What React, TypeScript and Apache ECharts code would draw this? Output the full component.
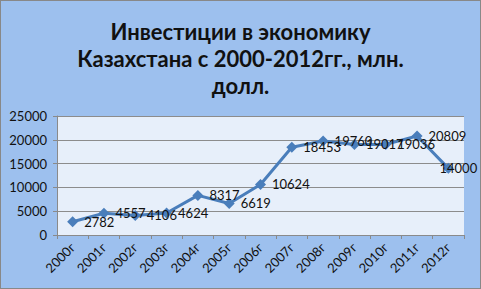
import React, { useEffect, useRef } from "react";
import * as echarts from "echarts";

const categories = ["2000г", "2001г", "2002г", "2003г", "2004г", "2005г", "2006г", "2007г", "2008г", "2009г", "2010г", "2011г", "2012г"];
const values = [2782, 4557, 4106, 4624, 8317, 6619, 10624, 18453, 19760, 19017, 19036, 20809, 14000];
const titleText = "Инвестиции в экономику\nКазахстана с 2000-2012гг., млн.\nдолл.";

export default function App() {
  const ref = useRef<HTMLDivElement>(null);
  useEffect(() => {
    document.body.style.margin = "0";
    const chart = echarts.init(ref.current!, null, { renderer: "svg" });
    const lastIdx = values.length - 1;
    chart.setOption({
      animation: false,
      backgroundColor: "#9DC0EE",
      title: {
        text: titleText,
        left: "center",
        top: 12,
        textStyle: {
          fontFamily: "Lato",
          fontWeight: "bold",
          fontSize: 22,
          lineHeight: 27,
          color: "#111",
        },
      },
      grid: {
        left: 56,
        right: 16,
        top: 115,
        bottom: 53,
        show: true,
        backgroundColor: "#E7EFFA",
        borderWidth: 0,
      },
      xAxis: {
        type: "category",
        data: categories,
        boundaryGap: true,
        axisLine: { show: true, lineStyle: { color: "#8a8a8a", width: 1 } },
        axisTick: { show: true, alignWithLabel: false, length: 4, lineStyle: { color: "#8a8a8a" } },
        axisLabel: {
          rotate: 45,
          fontFamily: "Lato",
          fontSize: 13,
          color: "#111",
          margin: 10,
          interval: 0,
        },
      },
      yAxis: {
        type: "value",
        min: 0,
        max: 25000,
        interval: 5000,
        axisLine: { show: true, lineStyle: { color: "#8a8a8a", width: 1 } },
        axisTick: { show: true, length: 4, lineStyle: { color: "#8a8a8a" } },
        axisLabel: {
          fontFamily: "Lato",
          fontSize: 13,
          color: "#111",
          margin: 10,
          formatter: (v: number) => String(v),
        },
        splitLine: { show: true, lineStyle: { color: "#8c8c8c", width: 1 } },
      },
      series: [
        {
          type: "line",
          data: values.map((v, i) =>
            i === lastIdx
              ? { value: v, label: { position: "inside", offset: [10, 0] } }
              : v
          ),
          symbol: "diamond",
          symbolSize: 11,
          lineStyle: { color: "#4A7EBB", width: 3 },
          itemStyle: { color: "#4A7EBB" },
          label: {
            show: true,
            position: "right",
            distance: 6,
            fontFamily: "Lato",
            fontSize: 13,
            color: "#111",
          },
        },
      ],
    });
    return () => chart.dispose();
  }, []);
  return (
    <div
      ref={ref}
      style={{ position: "absolute", left: 0, top: 0, width: 481, height: 289, boxSizing: "border-box", border: "1px solid #888" }}
    />
  );
}
